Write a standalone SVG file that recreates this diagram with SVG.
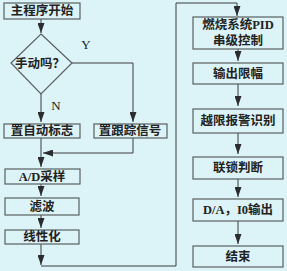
<svg xmlns="http://www.w3.org/2000/svg" width="287" height="271" viewBox="0 0 287 271">
<defs>
<style>
.bg{fill:#dcf4f7}
.box{fill:#dcf4f7;stroke:#5a5f60;stroke-width:1.2}
.ln{fill:none;stroke:#3a3d3e;stroke-width:1}
.t{font-family:"Liberation Serif","Noto Sans CJK SC",serif;font-size:12.5px;font-weight:bold;fill:#222;text-anchor:middle;dominant-baseline:central}
.lbl{font-family:"Liberation Serif",serif;font-size:13px;fill:#222;text-anchor:middle;dominant-baseline:central}
</style>
<marker id="ah" markerUnits="userSpaceOnUse" markerWidth="10" markerHeight="7" refX="10" refY="3.5" orient="auto">
<path d="M0,0 L10,3.5 L0,7 z" fill="#2a2c2d"/>
</marker>
</defs>
<rect class="bg" x="0" y="0" width="287" height="271"/>
<g id="connectors">
<path class="ln" d="M41,19 V33" marker-end="url(#ah)"/>
<path class="ln" d="M41,94 V122" marker-end="url(#ah)"/>
<path class="ln" d="M72,63 H133 V122" marker-end="url(#ah)"/>
<path class="ln" d="M133,137 V153 H43" marker-end="url(#ah)"/>
<path class="ln" d="M41,137 V167" marker-end="url(#ah)"/>
<path class="ln" d="M41,184 V196" marker-end="url(#ah)"/>
<path class="ln" d="M41,215 V228" marker-end="url(#ah)"/>
<path class="ln" d="M41,244 V265" marker-end="url(#ah)"/>
<path class="ln" d="M41,266 H176 V3 H237 V16" marker-end="url(#ah)"/>
<path class="ln" d="M238,49 V61" marker-end="url(#ah)"/>
<path class="ln" d="M238,84 V106" marker-end="url(#ah)"/>
<path class="ln" d="M238,133 V154" marker-end="url(#ah)"/>
<path class="ln" d="M238,179 V197" marker-end="url(#ah)"/>
<path class="ln" d="M238,221 V244" marker-end="url(#ah)"/>
</g>
<g id="start"><rect class="box" x="4" y="3" width="76" height="16"/><text class="t" x="42" y="11">主程序开始</text></g>
<g id="decision"><polygon class="box" points="41,34 72,63 41,94 11,63"/><text class="t" x="40" y="64">手动吗？</text></g>
<g id="label-y"><text class="lbl" x="86" y="44">Y</text></g>
<g id="label-n"><text class="lbl" x="56" y="105">N</text></g>
<g id="auto"><rect class="box" x="4" y="124" width="76" height="14"/><text class="t" x="42" y="131">置自动标志</text></g>
<g id="track"><rect class="box" x="94" y="124" width="73" height="14"/><text class="t" x="130" y="131">置跟踪信号</text></g>
<g id="ad"><rect class="box" x="5" y="169" width="75" height="15"/><text class="t" x="42" y="176.5">A/D采样</text></g>
<g id="filter"><rect class="box" x="5" y="198" width="74" height="17"/><text class="t" x="42" y="206.5">滤波</text></g>
<g id="linear"><rect class="box" x="5" y="230" width="74" height="14"/><text class="t" x="42" y="237">线性化</text></g>
<g id="pid"><rect class="box" x="193" y="17" width="90" height="32"/><text class="t" x="238" y="25">燃烧系统PID</text><text class="t" x="238" y="41">串级控制</text></g>
<g id="limit"><rect class="box" x="193" y="63" width="90" height="21"/><text class="t" x="238" y="73.5">输出限幅</text></g>
<g id="alarm"><rect class="box" x="193" y="109" width="90" height="24"/><text class="t" x="238" y="121">越限报警识别</text></g>
<g id="interlock"><rect class="box" x="193" y="157" width="90" height="22"/><text class="t" x="238" y="168">联锁判断</text></g>
<g id="output"><rect class="box" x="193" y="199" width="90" height="22"/><text class="t" x="238" y="210">D/A，I0输出</text></g>
<g id="end"><rect class="box" x="193" y="246" width="90" height="21"/><text class="t" x="238" y="256.5">结束</text></g>
</svg>
